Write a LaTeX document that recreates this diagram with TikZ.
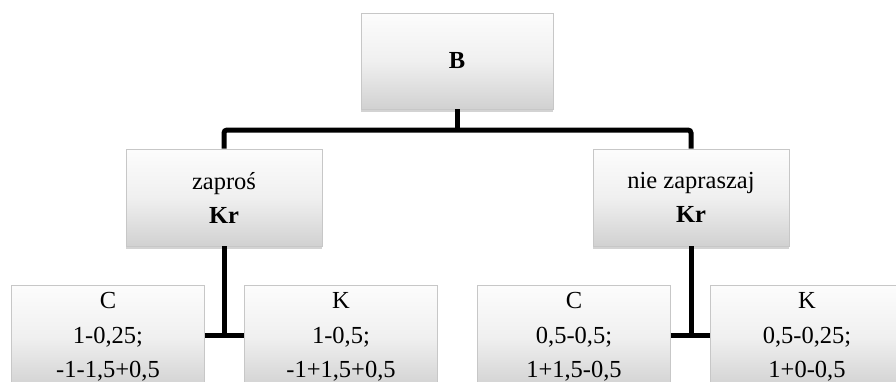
\documentclass[tikz,border=0pt]{standalone}
\usepackage{fontspec}
\setmainfont{Liberation Serif}
\usetikzlibrary{shadows}
\tikzset{
  box/.style={draw=black!22, line width=0.6pt, top color=black!1, bottom color=black!18,
    middle color=black!6, shading angle=0,
    drop shadow={opacity=0.35, shadow xshift=0pt, shadow yshift=-3pt},
    align=center, inner sep=0pt, font=\fontsize{24.5}{34}\selectfont},
  leaf/.style={box, minimum width=193pt, minimum height=104pt, font=\fontsize{24.5}{34.5}\selectfont},
  mid/.style={box, minimum width=196pt, minimum height=97pt},
  conn/.style={line width=5pt, black, rounded corners=3pt}
}
\begin{document}
\begin{tikzpicture}[x=1pt, y=-1pt]
\useasboundingbox (0,0) rectangle (896,381);
\clip (0,0) rectangle (896,381);
\coordinate (barT) at (0,130);
\coordinate (barB) at (0,335);
\node[box, minimum width=192pt, minimum height=96pt] (B) at (457,61) {\textbf{B}};
\node[mid] (zap) at (224,197.5) {zaproś\\\textbf{Kr}};
\node[mid] (nie) at (691,197.5) {nie zapraszaj\\\textbf{Kr}};
\node[leaf] (c1) at (108,337) {C\\1-0,25;\\-1-1,5+0,5};
\node[leaf] (k1) at (341,337) {K\\1-0,5;\\-1+1,5+0,5};
\node[leaf] (c2) at (574,337) {C\\0,5-0,5;\\1+1,5-0,5};
\node[leaf] (k2) at (807,337) {K\\0,5-0,25;\\1+0-0,5};
\draw[conn] (B.south) -- (B.south |- barT);
\draw[conn] (zap.north) -- (zap.north |- barT) -- (nie.north |- barT) -- (nie.north);
\draw[conn] (zap.south) -- (zap.south |- barB);
\draw[conn] (c1.east |- barB) -- (k1.west |- barB);
\draw[conn] (nie.south) -- (nie.south |- barB);
\draw[conn] (c2.east |- barB) -- (k2.west |- barB);
\end{tikzpicture}
\end{document}
